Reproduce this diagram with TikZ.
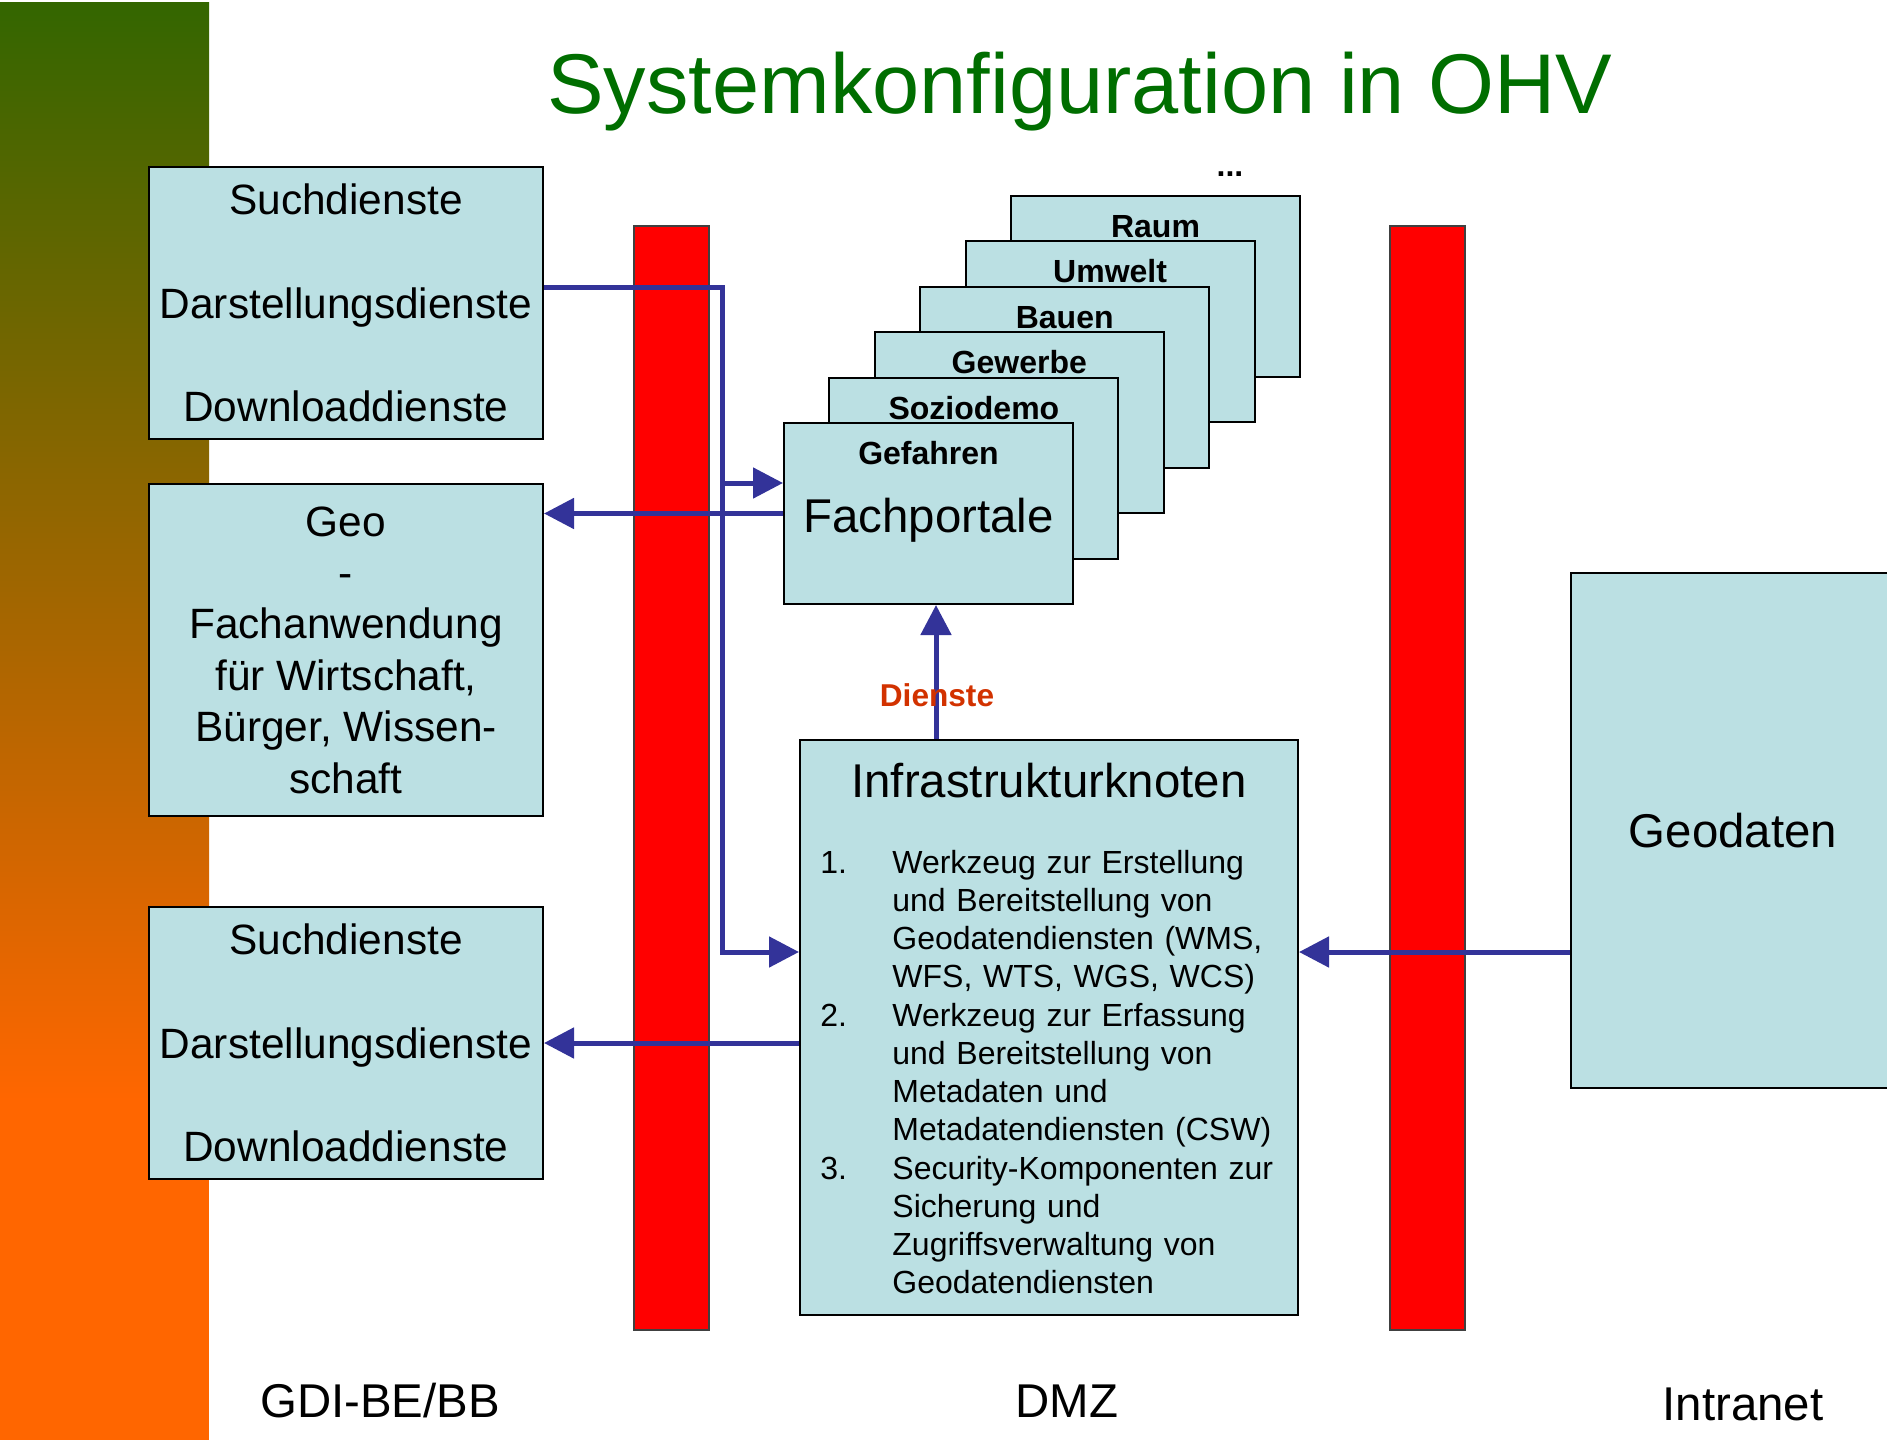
\documentclass[tikz,border=0pt]{standalone}
\usepackage{fontspec}
\setmainfont{Liberation Sans}
\usetikzlibrary{arrows.meta,calc}
\definecolor{boxfill}{RGB}{187,224,227}
\definecolor{flowblue}{RGB}{51,51,153}
\definecolor{titlegreen}{RGB}{0,110,0}
\definecolor{dienstred}{RGB}{210,50,0}
\definecolor{gtop}{RGB}{51,102,0}
\definecolor{gbot}{RGB}{255,102,0}
\definecolor{fwred}{RGB}{255,0,0}
\begin{document}
\begin{tikzpicture}[x=0.5pt,y=-0.5pt,
  panel/.style={draw=black,line width=1pt,fill=boxfill,inner sep=0pt,align=center},
  firewall/.style={draw=black!75,line width=0.8pt,fill=fwred,inner sep=0pt,minimum width=37.5pt,minimum height=552pt},
  flow/.style={draw=flowblue,line width=2.5pt},
  tip/.style={-{Triangle[length=15pt,width=15pt]}},
  bigtxt/.style={font=\fontsize{23.7}{28}\selectfont},
  svctxt/.style={font=\fontsize{21.2}{25.8}\selectfont},
  tablbl/.style={font=\fontsize{16}{19}\selectfont\bfseries,anchor=base,inner sep=0pt},
  listtxt/.style={font=\fontsize{16}{19.15}\selectfont,align=left,anchor=base west,inner sep=0pt,text width=200pt},
  numtxt/.style={font=\fontsize{16}{19.15}\selectfont,anchor=base west,inner sep=0pt},
  stackbox/.style={panel,minimum width=144.5pt,minimum height=90.5pt},
]
\useasboundingbox (0,0) rectangle (1887,1440);

% gradient side bar
\shade[top color=gtop,bottom color=gbot] (0,2) rectangle (209,1100);
\fill[gbot] (0,1099) rectangle (209,1440);

% title
\node[anchor=base,text=titlegreen,font=\fontsize{42.4}{50}\selectfont,inner sep=0pt] (title) at (1080,113) {Systemkonfiguration in OHV};

% firewalls
\node[firewall] (fwA) at (671.5,778) {};
\node[firewall] (fwB) at (1427.5,778) {};

% left boxes
\node[panel,svctxt,minimum width=197pt,minimum height=136pt] (suchA) at (346,303)
  {Suchdienste\\[25.8pt]Darstellungsdienste\\[25.8pt]Downloaddienste};
\node[panel,font=\fontsize{21.2}{25.7}\selectfont,minimum width=197pt,minimum height=166pt] (geo) at (346,650)
  {Geo\\-\\Fachanwendung\\für Wirtschaft,\\Bürger, Wissen-\\schaft};
\node[panel,svctxt,minimum width=197pt,minimum height=136pt] (suchB) at (346,1043)
  {Suchdienste\\[25.8pt]Darstellungsdienste\\[25.8pt]Downloaddienste};

% stack of Fachportale
\foreach \k/\nm/\lab in {5/raum/Raum,4/umwelt/Umwelt,3/bauen/Bauen,2/gewerbe/Gewerbe,1/sozio/Soziodemo} {
  \node[stackbox] (\nm) at ({928.5+45.4*\k},{513.5-45.4*\k}) {};
  \node[tablbl] (\nm lbl) at ([yshift=-21.2pt]\nm.north) {\lab};
}
\node[stackbox,bigtxt,text height=18.5pt,text depth=0pt] (gef) at (928.5,513.5) {Fachportale};
\node[tablbl] (geflbl) at ([yshift=-21.2pt]gef.north) {Gefahren};
\node[tablbl] (dots) at (1230,176) {...};

% Infrastrukturknoten
\node[panel,minimum width=249pt,minimum height=287.5pt] (infra) at (1049,1027.5) {};
\node[bigtxt,anchor=base,inner sep=0pt] (infratitle) at (1049,797) {Infrastrukturknoten};
\node[numtxt] (n1) at (820,873) {1.};
\node[listtxt] (t1) at (892,873) {Werkzeug zur Erstellung\\und Bereitstellung von\\Geodatendiensten (WMS,\\WFS, WTS, WGS, WCS)};
\node[numtxt] (n2) at (820,1026) {2.};
\node[listtxt] (t2) at (892,1026) {Werkzeug zur Erfassung\\und Bereitstellung von\\Metadaten und\\Metadatendiensten (CSW)};
\node[numtxt] (n3) at (820,1179) {3.};
\node[listtxt] (t3) at (892,1179) {Security-Komponenten zur\\Sicherung und\\Zugriffsverwaltung von\\Geodatendiensten};

% Geodaten
\node[panel,bigtxt,minimum width=162pt,minimum height=257.5pt] (geod) at (1733,830.5) {Geodaten};

% connectors
\coordinate (bendTop) at (722,287);
\coordinate (branch) at (722,483);
\coordinate (bendBot) at (722,952);
\coordinate (dcol) at (936,0);
\draw[flow,tip] ([yshift=8pt]suchA.east) -- (bendTop) -- (bendBot) -- (bendBot -| infra.west);
\draw[flow,tip] (branch) -- (branch -| gef.west);
\draw[flow,tip] (gef.west) -- (gef.west -| geo.east);
\draw[flow,tip] (suchB.east -| infra.west) -- (suchB.east);
\draw[flow,tip] (geod.west |- bendBot) -- (infra.east |- bendBot);
\draw[flow,tip] (dcol |- infra.north) -- (dcol |- gef.south);
\node[font=\fontsize{15.8}{19}\selectfont\bfseries,text=dienstred,inner sep=0pt] (dienste) at (937,695) {Dienste};

% zone labels
\node[bigtxt,anchor=base,inner sep=0pt] (zoneA) at (380,1417) {GDI-BE/BB};
\node[bigtxt,anchor=base,inner sep=0pt] (zoneB) at (1067,1417) {DMZ};
\node[bigtxt,anchor=base,inner sep=0pt] (zoneC) at (1743,1420) {Intranet};
\end{tikzpicture}
\end{document}
